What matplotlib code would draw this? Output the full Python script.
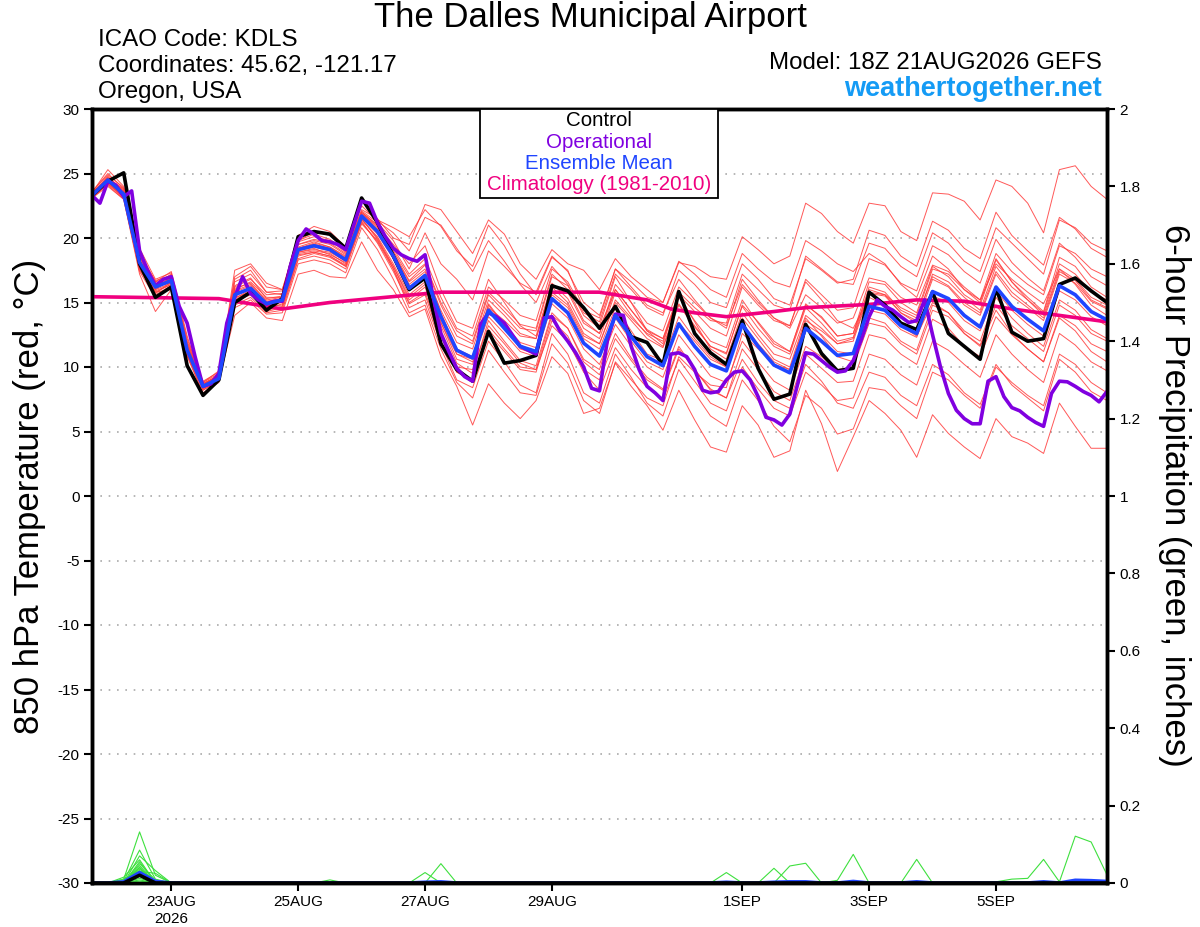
import numpy as np
import matplotlib
matplotlib.use("Agg")
import matplotlib.pyplot as plt
from matplotlib.patches import Rectangle

plt.rcParams['font.family'] = ['Liberation Sans', 'DejaVu Sans']
plt.rcParams['axes.unicode_minus'] = False

# 6-hourly steps from 18Z 21AUG2026
step_hours = [6 * i for i in range(65)]
op_hours = [3 * i for i in range(129)]

ctrl_temp = [23.3, 24.4, 25.05, 18.0, 15.4, 16.2, 10.1, 7.8, 9.0,
             15.0, 15.8, 14.4, 15.3, 20.1, 20.5, 20.3, 19.2,
             23.1, 21.2, 18.6, 16.0, 16.9, 11.8, 9.8, 8.9,
             12.75, 10.3, 10.5, 10.9, 16.3, 15.9, 14.6, 13.0,
             14.7, 12.35, 11.9, 10.15, 15.85, 12.6, 11.1, 10.2,
             13.6, 9.9, 7.5, 7.9, 13.3, 11.05, 9.7, 9.9,
             15.8, 14.8, 13.4, 12.9, 15.8, 12.6, 11.6, 10.6,
             16.1, 12.7, 12.0, 12.2, 16.4, 16.9, 15.9, 15.0]

mean_temp = [23.3, 24.5, 23.4, 18.1, 16.2, 16.7, 11.3, 8.5, 9.1,
             15.6, 16.1, 14.9, 15.2, 19.1, 19.4, 19.1, 18.3,
             21.7, 20.5, 18.6, 16.1, 17.1, 13.9, 11.3, 10.7,
             14.4, 13.0, 11.6, 11.2, 15.3, 14.2, 11.85, 10.85,
             14.0, 12.35, 10.8, 10.1, 13.35, 11.6, 10.2, 9.7,
             13.3, 11.6, 10.15, 9.55, 13.0, 12.0, 10.9, 11.05,
             14.7, 14.4, 13.2, 12.6, 15.85, 15.3, 14.0, 13.1,
             16.2, 14.7, 13.7, 12.8, 16.3, 15.6, 14.3, 13.65]

op_temp = [23.3, 22.7, 24.4, 24.1, 23.2, 23.65, 19.0, 17.5, 16.3, 16.8,
           17.0, 14.7, 13.4, 10.8, 8.5, 8.7, 9.5, 13.4, 15.4, 17.0,
           15.7, 15.2, 14.9, 15.1, 15.1, 17.8, 19.8, 20.7, 20.3, 19.8,
           19.7, 19.5, 19.1, 21.0, 22.85, 22.7, 21.2, 20.1, 19.2, 18.7,
           18.4, 18.2, 18.7, 15.5, 12.6, 11.2, 9.9, 9.25, 8.9, 13.3,
           14.2, 13.9, 13.4, 12.5, 11.6, 11.3, 11.0, 13.8, 13.9, 12.8,
           12.0, 11.1, 10.0, 8.35, 8.15, 12.1, 14.1, 14.0, 11.6, 9.8,
           8.5, 8.0, 7.4, 11.0, 11.1, 10.8, 9.8, 8.2, 8.0, 8.1,
           9.0, 9.6, 9.7, 9.0, 7.7, 6.1, 5.9, 5.5, 6.35, 8.7,
           11.1, 11.0, 10.5, 10.0, 9.6, 9.7, 10.5, 12.1, 13.9, 15.2,
           14.7, 14.4, 13.9, 13.45, 13.6, 15.2, 12.5, 10.0, 7.95, 6.65,
           6.0, 5.6, 5.6, 8.9, 9.25, 7.7, 6.85, 6.6, 6.1, 5.7,
           5.4, 7.95, 8.9, 8.85, 8.5, 8.1, 7.8, 7.3, 8.1]

clim_hours = [0, 48, 72, 90, 132, 192, 210, 219, 228, 240, 258, 270, 294, 312, 330, 348, 366, 384]
clim_temp = [15.45, 15.3, 14.5, 15.0, 15.8, 15.8, 15.2, 14.5, 14.2, 13.9, 14.3, 14.6, 14.85, 15.2, 15.1, 14.5, 14.0, 13.5]

ens_temp = [
    [23.5, 25.3, 24.0, 19.2, 16.8, 17.3, 12.0, 8.9, 9.6, 16.8, 17.5, 15.8, 15.6, 19.8, 20.3, 19.9, 19.0,
     22.2, 21.5, 20.0, 19.5, 22.6, 22.2, 20.5, 18.8, 21.4, 20.3, 18.0, 16.8, 19.1, 18.0, 17.5, 16.0,
     18.4, 17.0, 16.0, 15.0, 18.1, 17.8, 17.0, 16.8, 20.1, 19.1, 18.0, 18.6, 22.7, 21.9, 20.5, 19.6,
     22.7, 22.5, 20.5, 19.8, 23.5, 23.4, 22.85, 21.4, 24.5, 24.0, 22.7, 20.4, 25.3, 25.6, 24.0, 23.0],
    [23.1, 24.0, 23.0, 17.2, 14.3, 16.0, 11.0, 7.8, 8.9, 14.0, 15.0, 13.8, 13.6, 17.2, 17.5, 17.0, 16.9,
     19.7, 17.5, 16.0, 13.9, 14.5, 10.8, 8.5, 5.5, 8.7, 7.2, 6.0, 7.4, 10.8, 9.5, 6.4, 6.8,
     10.3, 8.5, 7.0, 5.1, 8.2, 5.9, 3.8, 3.4, 7.0, 5.5, 3.0, 3.5, 8.2, 5.6, 1.9, 4.6,
     7.4, 6.4, 5.1, 3.0, 6.3, 4.85, 3.8, 2.9, 6.0, 4.6, 4.1, 3.3, 7.2, 5.4, 3.7, 3.7],
    [23.4, 24.8, 23.6, 18.6, 16.0, 16.9, 11.8, 8.7, 9.3, 16.3, 16.9, 15.3, 15.5, 19.5, 19.9, 19.6, 18.8,
     22.0, 21.0, 19.5, 18.0, 19.4, 16.0, 13.5, 13.0, 16.8, 15.0, 13.2, 12.4, 16.5, 15.3, 13.0, 12.2,
     15.8, 14.0, 12.5, 11.6, 14.9, 13.2, 11.6, 11.0, 14.8, 13.5, 12.0, 11.2, 14.8, 13.9, 12.4, 12.6,
     16.6, 16.4, 15.0, 14.2, 17.8, 17.0, 15.6, 14.8, 18.3, 16.6, 15.4, 14.3, 18.5, 17.8, 16.2, 15.4],
    [23.2, 24.2, 23.2, 17.6, 15.6, 16.3, 10.9, 8.2, 8.9, 15.0, 15.7, 14.3, 14.6, 18.4, 18.8, 18.5, 17.8,
     21.3, 19.6, 17.4, 14.9, 15.6, 12.0, 9.6, 8.9, 12.6, 11.2, 9.8, 9.6, 13.6, 12.4, 9.8, 9.0,
     12.2, 10.5, 9.0, 8.2, 11.4, 9.8, 8.3, 7.6, 11.4, 9.8, 8.1, 7.4, 11.0, 9.9, 8.8, 8.9,
     12.5, 12.2, 11.0, 10.2, 13.7, 13.0, 11.6, 10.8, 13.9, 12.5, 11.4, 10.4, 14.0, 13.2, 11.8, 11.2],
    [23.6, 24.9, 23.9, 18.9, 16.6, 17.4, 12.4, 8.6, 9.4, 17.5, 18.0, 16.5, 16.0, 20.2, 20.9, 20.5, 19.3,
     22.9, 21.4, 20.8, 20.1, 22.2, 20.9, 19.0, 17.8, 21.0, 19.4, 17.2, 15.6, 18.5, 17.5, 14.5, 13.2,
     17.0, 15.0, 12.8, 11.8, 15.6, 13.5, 11.4, 10.6, 14.2, 12.5, 11.0, 10.6, 14.0, 13.0, 11.8, 12.0,
     15.7, 15.5, 14.2, 13.4, 16.8, 16.2, 14.8, 14.0, 17.2, 15.5, 14.6, 13.6, 17.2, 16.5, 15.1, 14.5],
    [23.0, 24.4, 23.1, 17.9, 15.9, 16.4, 11.1, 8.3, 9.0, 15.2, 15.9, 14.8, 15.0, 18.8, 19.0, 18.8, 18.0,
     21.5, 20.0, 17.8, 15.2, 16.2, 12.6, 10.0, 9.8, 13.2, 11.8, 10.3, 9.8, 13.2, 12.0, 9.6, 8.2,
     11.5, 9.8, 8.4, 7.5, 10.6, 8.9, 7.2, 6.6, 10.0, 8.3, 6.8, 6.2, 9.6, 8.6, 7.4, 7.6,
     11.0, 10.6, 9.4, 8.6, 12.0, 11.3, 10.2, 9.2, 12.5, 11.0, 9.8, 8.8, 12.6, 11.7, 10.4, 9.7],
    [23.3, 24.6, 23.5, 18.3, 16.4, 16.8, 11.5, 8.5, 9.2, 15.9, 16.4, 15.2, 15.4, 19.3, 19.7, 19.3, 18.6,
     21.9, 20.8, 18.9, 16.7, 17.9, 14.8, 12.4, 11.8, 15.6, 14.3, 13.0, 12.8, 17.0, 16.3, 14.2, 13.5,
     17.2, 16.0, 14.6, 14.0, 17.5, 16.4, 15.0, 14.6, 18.0, 16.8, 15.3, 14.8, 18.4, 17.5, 16.5, 16.8,
     20.6, 20.2, 18.6, 17.8, 21.3, 20.6, 19.2, 18.4, 22.0, 20.2, 19.0, 17.9, 21.6, 20.7, 19.2, 18.5],
    [23.3, 24.3, 23.3, 18.0, 16.5, 16.6, 11.4, 8.4, 9.1, 15.4, 15.8, 14.5, 14.9, 18.9, 19.2, 18.7, 18.1,
     21.6, 20.3, 18.4, 16.0, 17.2, 13.5, 10.6, 10.2, 14.8, 13.2, 11.4, 11.0, 15.6, 14.6, 12.2, 11.4,
     14.6, 12.8, 11.0, 10.5, 13.9, 12.2, 10.8, 10.0, 13.4, 11.8, 10.4, 9.8, 13.3, 12.5, 11.2, 11.0,
     14.4, 14.1, 12.9, 12.3, 15.5, 15.0, 13.6, 12.8, 15.9, 14.4, 13.3, 12.4, 15.9, 15.2, 13.9, 13.2],
    [23.2, 24.1, 23.0, 17.5, 15.8, 16.0, 10.8, 8.0, 8.8, 14.6, 15.2, 14.1, 14.2, 18.0, 18.3, 18.0, 17.3,
     20.8, 19.1, 16.8, 14.2, 14.8, 11.4, 8.8, 7.6, 11.3, 9.6, 8.0, 7.8, 11.8, 10.3, 7.4, 6.4,
     10.4, 9.0, 7.6, 7.0, 10.8, 9.6, 8.6, 8.4, 12.6, 11.4, 10.2, 9.8, 13.6, 12.8, 11.8, 12.2,
     15.8, 15.6, 14.6, 14.0, 17.6, 17.2, 16.0, 15.2, 18.8, 17.4, 16.4, 15.6, 19.4, 18.8, 17.6, 17.0],
    [23.4, 24.7, 23.7, 18.4, 16.1, 17.0, 11.6, 8.7, 9.4, 16.0, 16.6, 15.4, 15.4, 19.2, 19.5, 19.2, 18.4,
     21.8, 20.7, 18.8, 16.6, 17.6, 14.2, 11.4, 10.8, 14.9, 13.3, 11.9, 11.5, 15.8, 14.8, 12.4, 11.8,
     15.2, 13.8, 12.6, 12.0, 15.6, 14.3, 13.0, 12.4, 16.2, 14.8, 13.6, 13.2, 16.8, 15.6, 14.4, 14.6,
     18.4, 17.9, 16.5, 15.9, 19.4, 18.7, 17.4, 16.5, 19.9, 18.1, 16.9, 15.9, 19.6, 18.5, 17.0, 16.3],
    [23.1, 24.5, 23.2, 17.8, 16.0, 16.5, 11.2, 8.3, 9.1, 15.3, 16.0, 14.7, 14.8, 18.7, 18.9, 18.6, 17.9,
     21.4, 20.1, 18.0, 15.6, 16.6, 13.2, 10.3, 9.5, 13.6, 12.0, 10.5, 10.1, 14.2, 13.0, 10.4, 9.4,
     12.6, 10.7, 9.2, 8.3, 11.6, 9.8, 8.2, 7.6, 10.6, 8.8, 7.4, 6.8, 10.2, 8.9, 7.2, 6.8,
     9.6, 9.2, 7.8, 7.0, 10.2, 9.4, 8.0, 7.1, 10.2, 8.6, 7.6, 6.6, 10.6, 9.6, 8.1, 7.4],
    [23.5, 24.6, 23.8, 18.7, 16.7, 17.1, 11.9, 8.8, 9.5, 16.6, 17.2, 15.8, 15.9, 19.7, 20.1, 19.8, 18.9,
     22.1, 21.2, 19.8, 17.6, 20.4, 18.0, 16.8, 15.2, 19.0, 17.8, 16.5, 15.8, 18.6, 17.4, 15.0, 14.0,
     17.6, 16.2, 14.8, 14.2, 16.8, 15.2, 13.8, 13.2, 16.4, 15.0, 13.8, 13.0, 15.6, 14.6, 13.4, 13.8,
     16.9, 16.6, 15.4, 14.8, 17.9, 17.4, 16.2, 15.2, 18.0, 16.8, 15.8, 14.9, 17.6, 16.8, 15.4, 14.8],
    [23.2, 24.4, 23.3, 18.1, 16.3, 16.5, 11.3, 8.6, 9.2, 15.6, 16.0, 14.9, 15.1, 19.0, 19.3, 19.0, 18.2,
     21.6, 20.4, 18.5, 16.2, 17.0, 13.8, 11.0, 10.4, 13.9, 12.6, 11.2, 10.8, 14.9, 13.8, 11.4, 10.2,
     13.3, 11.6, 10.0, 9.2, 12.5, 10.9, 9.3, 8.8, 12.0, 10.4, 8.9, 8.2, 11.6, 10.8, 9.8, 10.0,
     13.4, 13.1, 11.8, 11.0, 14.4, 13.9, 12.6, 11.7, 14.8, 13.2, 12.2, 11.2, 14.8, 14.0, 12.6, 12.0],
    [23.4, 24.3, 23.4, 18.2, 15.7, 16.6, 11.5, 8.6, 9.3, 15.5, 16.2, 15.0, 15.0, 18.9, 19.1, 18.9, 18.2,
     21.5, 19.9, 17.6, 14.6, 15.2, 11.8, 9.0, 8.4, 12.0, 10.4, 8.6, 8.0, 12.6, 11.0, 8.0, 7.2,
     11.0, 9.2, 7.2, 6.2, 9.8, 8.0, 6.2, 5.4, 9.0, 7.4, 5.4, 4.2, 7.8, 6.8, 4.8, 5.2,
     8.4, 8.2, 7.0, 6.0, 9.6, 9.0, 7.8, 6.8, 10.0, 8.8, 7.8, 7.0, 11.0, 10.2, 8.8, 8.0],
    [23.3, 24.5, 23.5, 18.2, 16.2, 16.8, 11.4, 8.5, 9.1, 15.8, 16.3, 15.0, 15.3, 19.2, 19.5, 19.2, 18.4,
     21.8, 20.6, 18.7, 16.4, 17.4, 14.4, 11.9, 11.4, 15.2, 14.0, 12.6, 12.2, 16.2, 15.0, 12.6, 11.8,
     15.0, 13.6, 12.2, 11.5, 14.8, 13.1, 11.6, 11.1, 14.7, 13.0, 11.6, 11.0, 14.6, 13.4, 12.0, 12.3,
     16.2, 15.8, 14.4, 13.8, 17.0, 16.3, 15.0, 14.2, 17.4, 15.8, 14.8, 13.8, 17.4, 16.7, 15.2, 14.6],
    [23.6, 25.0, 23.8, 18.8, 16.4, 17.2, 12.2, 8.8, 9.7, 17.0, 17.8, 16.2, 16.0, 19.8, 20.5, 20.2, 19.1,
     22.5, 21.3, 20.4, 19.0, 21.6, 21.0, 19.2, 17.4, 19.8, 18.2, 16.4, 15.0, 17.8, 16.4, 14.0, 13.0,
     16.0, 14.4, 12.8, 12.2, 15.8, 14.6, 13.6, 13.4, 17.2, 16.0, 14.8, 14.4, 18.6, 17.6, 16.6, 16.4,
     19.6, 19.2, 17.8, 17.0, 20.4, 19.6, 18.2, 17.4, 20.8, 19.6, 18.4, 17.2, 21.4, 20.8, 19.6, 19.0],
    [23.1, 24.2, 23.1, 17.4, 15.4, 16.2, 11.0, 8.2, 9.0, 14.8, 15.4, 14.2, 14.4, 18.3, 18.6, 18.3, 17.6,
     21.1, 19.8, 17.8, 15.4, 16.4, 13.4, 11.0, 10.6, 14.6, 13.6, 12.4, 12.2, 16.4, 15.8, 13.4, 12.6,
     16.4, 15.0, 13.4, 12.8, 16.2, 15.0, 13.8, 13.0, 16.8, 15.2, 13.8, 13.2, 16.6, 15.2, 13.6, 13.0,
     15.4, 14.8, 13.2, 12.4, 15.0, 14.2, 12.6, 11.6, 14.4, 12.6, 11.4, 10.4, 13.8, 12.8, 11.2, 10.4],
    [23.5, 24.7, 23.6, 18.5, 16.6, 17.0, 11.7, 8.7, 9.3, 16.2, 16.8, 15.6, 15.7, 19.5, 19.8, 19.5, 18.7,
     22.0, 21.0, 19.2, 17.2, 18.4, 15.4, 13.0, 12.4, 16.2, 15.2, 14.0, 13.6, 17.6, 16.6, 14.4, 13.8,
     17.6, 16.6, 15.4, 15.0, 18.2, 17.2, 16.0, 15.4, 18.8, 17.6, 16.6, 16.2, 19.8, 19.0, 18.0, 17.4,
     18.8, 18.0, 16.4, 15.4, 18.6, 17.6, 16.0, 15.0, 18.4, 16.6, 15.2, 14.0, 17.6, 16.4, 14.8, 14.0],
    [23.2, 24.3, 23.2, 17.7, 15.8, 16.4, 11.0, 8.4, 9.0, 15.1, 15.6, 14.4, 14.7, 18.6, 18.9, 18.6, 17.8,
     21.2, 19.7, 17.6, 15.0, 15.8, 12.4, 9.6, 9.0, 12.9, 11.4, 10.0, 9.8, 14.0, 13.0, 10.6, 9.8,
     13.8, 12.0, 10.4, 9.8, 13.4, 12.0, 10.6, 10.0, 13.8, 12.2, 10.6, 10.0, 13.8, 12.4, 10.8, 10.4,
     13.8, 13.4, 12.0, 11.3, 14.8, 14.2, 12.8, 12.0, 15.4, 13.8, 12.6, 11.6, 15.2, 14.4, 12.9, 12.2],
    [23.4, 24.6, 23.4, 18.3, 16.2, 16.9, 11.6, 8.6, 9.3, 16.1, 16.5, 15.1, 15.3, 19.2, 19.6, 19.3, 18.5,
     21.9, 20.9, 19.0, 17.0, 18.0, 15.0, 12.8, 12.0, 15.8, 14.6, 13.3, 13.0, 17.2, 16.0, 13.6, 12.6,
     16.0, 14.4, 12.9, 12.2, 15.4, 13.6, 12.0, 11.5, 15.2, 13.4, 11.8, 11.2, 14.9, 13.8, 12.4, 12.6,
     16.0, 15.6, 14.2, 13.6, 17.2, 16.6, 15.4, 14.4, 17.8, 16.2, 15.2, 14.2, 18.0, 17.2, 15.8, 15.2],
]

# 6-hour precipitation (inches): non-zero steps only, keyed by step index
ens_pcp = [
    {2: 0.01, 3: 0.132, 4: 0.02},
    {2: 0.005, 3: 0.085, 4: 0.01},
    {3: 0.07, 4: 0.032, 40: 0.027},
    {3: 0.055, 15: 0.008},
    {3: 0.05, 4: 0.008},
    {3: 0.045, 21: 0.027},
    {3: 0.04, 43: 0.038},
    {3: 0.036, 4: 0.004},
    {3: 0.032, 22: 0.05},
    {3: 0.028, 44: 0.044, 45: 0.051},
    {3: 0.025},
    {3: 0.02, 47: 0.007, 48: 0.074},
    {3: 0.018},
    {3: 0.012, 52: 0.061},
    {3: 0.008},
    {2: 0.01, 3: 0.03, 4: 0.025, 57: 0.003, 58: 0.01, 59: 0.012, 60: 0.061, 61: 0.003, 62: 0.121, 63: 0.106, 64: 0.021},
    {3: 0.005},
    {3: 0.04},
    {2: 0.015, 3: 0.06},
    {3: 0.03},
]
mean_pcp = {2: 0.003, 3: 0.027, 4: 0.004, 21: 0.002, 22: 0.003, 40: 0.002, 43: 0.002, 44: 0.003,
            45: 0.003, 48: 0.004, 52: 0.003, 60: 0.003, 62: 0.007, 63: 0.006, 64: 0.004}
ctrl_pcp = {3: 0.02}

tick_hours = [30, 78, 126, 174, 246, 294, 342]
tick_labels = ['23AUG\n2026', '25AUG', '27AUG', '29AUG', '1SEP', '3SEP', '5SEP']


def to_series(events, n=65):
    vals = np.zeros(n)
    for k, v in events.items():
        vals[k] = v
    return vals


W, H = 1200, 927
fig = plt.figure(figsize=(W / 100, H / 100), dpi=100)
ax = fig.add_axes([92 / W, (H - 883) / H, 1015 / W, 774 / H])

for y in range(-25, 30, 5):
    ax.axhline(y, color='#aaaaaa', lw=1.2, ls=(0, (1, 4)), zorder=0)

for member in ens_temp:
    ax.plot(step_hours, member, color='#ff3b3b', lw=0.7, alpha=0.85, zorder=1)

ax.plot(clim_hours, clim_temp, color='#f0007f', lw=2.6, zorder=3)
ax.plot(step_hours, ctrl_temp, color='black', lw=2.6, zorder=4)
ax.plot(op_hours, op_temp, color='#8000e0', lw=2.6, zorder=5)
ax.plot(step_hours, mean_temp, color='#1f45ff', lw=2.6, zorder=6)

ax.set_xlim(0, 384)
ax.set_ylim(-30, 30)
ax.set_yticks(range(-30, 31, 5))
ax.set_xticks(tick_hours)
ax.set_xticklabels(tick_labels)
ax.tick_params(axis='both', labelsize=11, length=6, width=1.5, direction='out', pad=3)
for side in ['left', 'right', 'top', 'bottom']:
    ax.spines[side].set_linewidth(2.5)

ax2 = ax.twinx()
for events in ens_pcp:
    ax2.plot(step_hours, to_series(events), color='#3ee03e', lw=0.8)
ax2.plot(step_hours, to_series(mean_pcp), color='#1f45ff', lw=2.6)
ax2.plot(step_hours, to_series(ctrl_pcp), color='black', lw=2.6)
ax2.set_ylim(0, 2)
ax2.set_yticks(np.arange(0, 2.01, 0.2))
ax2.set_yticklabels(['0', '0.2', '0.4', '0.6', '0.8', '1', '1.2', '1.4', '1.6', '1.8', '2'])
ax2.tick_params(axis='y', labelsize=11, length=6, width=1.5, direction='out', pad=3)
for side in ['left', 'right', 'top', 'bottom']:
    ax2.spines[side].set_linewidth(2.5)


def fx(px):
    return px / W


def fy(py):
    return 1 - py / H


fig.text(fx(590), fy(18), 'The Dalles Municipal Airport', ha='center', va='center', fontsize=25)
fig.text(fx(98), fy(40), 'ICAO Code: KDLS', ha='left', va='center', fontsize=17.4)
fig.text(fx(98), fy(66), 'Coordinates: 45.62, -121.17', ha='left', va='center', fontsize=17.4)
fig.text(fx(98), fy(92), 'Oregon, USA', ha='left', va='center', fontsize=17.4)
fig.text(fx(1102), fy(63), 'Model: 18Z 21AUG2026 GEFS', ha='right', va='center', fontsize=17.4)
fig.text(fx(1102), fy(89), 'weathertogether.net', ha='right', va='center', fontsize=19.5,
         fontweight='bold', color='#149bf5')

fig.text(fx(30), fy(496), '850 hPa Temperature (red, \u00b0C)', ha='center', va='center',
         rotation=90, fontsize=25)
fig.text(fx(1175), fy(495), '6-hour Precipitation (green, inches)', ha='center', va='center',
         rotation=270, fontsize=25)

# legend box
fig.add_artist(Rectangle((fx(480), fy(198)), 238 / W, 89 / H, transform=fig.transFigure,
                         facecolor='white', edgecolor='black', lw=1.3, zorder=5))
legend_items = [('Control', 'black'), ('Operational', '#8000e0'),
                ('Ensemble Mean', '#1f45ff'), ('Climatology (1981-2010)', '#f0007f')]
for k, (label, color) in enumerate(legend_items):
    fig.text(fx(599), fy(121 + 21.3 * k), label, ha='center', va='center', fontsize=14.8,
             color=color, zorder=6)

fig.savefig('out.png', dpi=100)
